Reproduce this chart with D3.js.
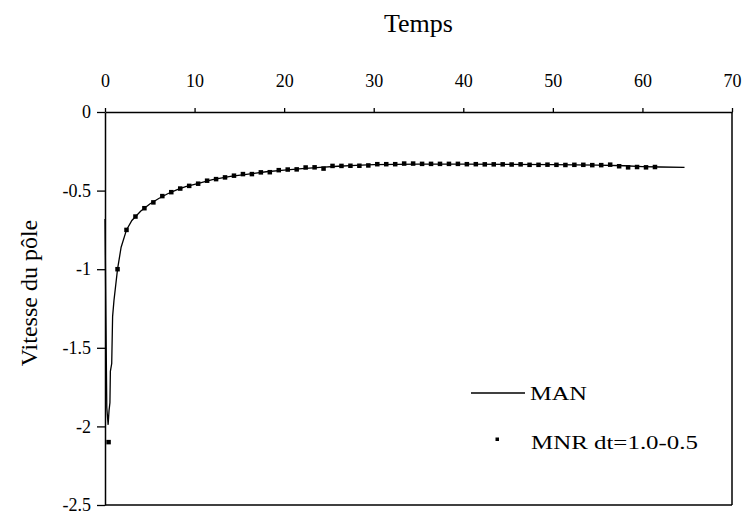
<!DOCTYPE html>
<html><head><meta charset="utf-8">
<script src="https://cdn.jsdelivr.net/npm/d3@7"></script>
<style>
body{margin:0;background:#fff;}
text{font-family:"Liberation Serif","Times New Roman",serif;fill:#000;}
</style></head>
<body>
<svg id="c" width="744" height="515"></svg>
<script>
// ---- data ----
const xTicks = [0, 10, 20, 30, 40, 50, 60, 70];
const yTicks = [0, -0.5, -1, -1.5, -2, -2.5];
const xTitle = "Temps";
const yTitle = "Vitesse du pôle";
const seriesNames = ["MAN", "MNR dt=1.0-0.5"];

// MAN (continuous curve)
const manT = [0, 0.1, 0.2, 0.35, 0.45, 0.55, 0.6, 0.75, 0.85, 1.0, 1.4, 1.8, 2.4, 3, 4, 5, 6, 7, 8, 9, 10, 12, 14, 16, 18, 20, 22, 24, 26, 28, 30, 35, 40, 45, 50, 55, 58, 60, 62, 64.7];
const manV = [-0.68, -1.3, -1.88, -1.99, -1.9, -1.85, -1.65, -1.6, -1.3, -1.2, -1.0, -0.86, -0.75, -0.69, -0.63, -0.585, -0.55, -0.52, -0.495, -0.475, -0.46, -0.43, -0.41, -0.395, -0.38, -0.37, -0.36, -0.352, -0.345, -0.34, -0.335, -0.332, -0.332, -0.333, -0.335, -0.338, -0.342, -0.347, -0.35, -0.352];

// MNR markers
const mnrT = [0.4, 1.4, 2.4, 3.4, 4.4, 5.4, 6.4, 7.4, 8.4, 9.4, 10.4, 11.4, 12.4, 13.4, 14.4, 15.4, 16.4, 17.4, 18.4, 19.4, 20.4, 21.4, 22.4, 23.4, 24.4, 25.4, 26.4, 27.4, 28.4, 29.4, 30.4, 31.4, 32.4, 33.4, 34.4, 35.4, 36.4, 37.4, 38.4, 39.4, 40.4, 41.4, 42.4, 43.4, 44.4, 45.4, 46.4, 47.4, 48.4, 49.4, 50.4, 51.4, 52.4, 53.4, 54.4, 55.4, 56.4, 57.4, 58.4, 59.4, 60.4, 61.4];
const mnrV = [-2.10, -1.00, -0.75, -0.665, -0.612, -0.575, -0.535, -0.51, -0.487, -0.47, -0.456, -0.437, -0.427, -0.416, -0.405, -0.395, -0.395, -0.384, -0.383, -0.37, -0.366, -0.365, -0.353, -0.352, -0.36, -0.343, -0.343, -0.342, -0.342, -0.34, -0.332, -0.332, -0.332, -0.328, -0.328, -0.33, -0.33, -0.33, -0.33, -0.33, -0.332, -0.332, -0.333, -0.333, -0.333, -0.334, -0.333, -0.336, -0.336, -0.335, -0.336, -0.337, -0.336, -0.336, -0.338, -0.338, -0.335, -0.345, -0.352, -0.35, -0.352, -0.35];

// ---- chart ----
const W = 744, H = 515;
const m = {left: 105, top: 112, right: 12, bottom: 10};
const svg = d3.select("#c");
const x = d3.scaleLinear().domain([0, 70]).range([m.left, W - m.right]);
const y = d3.scaleLinear().domain([-2.5, 0]).range([H - m.bottom, m.top]);

// frame (right & bottom)
svg.append("line").attr("x1", x(70)).attr("x2", x(70)).attr("y1", y(0)).attr("y2", y(-2.5))
  .attr("stroke", "#000").attr("stroke-width", 1.5);
svg.append("line").attr("x1", x(0)).attr("x2", x(70)).attr("y1", y(-2.5)).attr("y2", y(-2.5))
  .attr("stroke", "#000").attr("stroke-width", 1.5);

// top x axis
const gx = svg.append("g").attr("transform", `translate(0,${y(0)})`)
  .call(d3.axisTop(x).tickValues(xTicks).tickSizeInner(4).tickSizeOuter(0).tickPadding(21).tickFormat(d => String(d)));
gx.select(".domain").attr("stroke-width", 1.5);
gx.selectAll(".tick line").attr("stroke-width", 1.3);
gx.selectAll("text").style("font-size", "18px").attr("font-family", null);

// left y axis
const gy = svg.append("g").attr("transform", `translate(${x(0)},0)`)
  .call(d3.axisLeft(y).tickValues(yTicks).tickSizeInner(8).tickSizeOuter(0).tickPadding(6).tickFormat(d => String(d)));
gy.select(".domain").attr("stroke-width", 1.5);
gy.selectAll(".tick line").attr("stroke-width", 1.3);
gy.selectAll("text").style("font-size", "18px").attr("font-family", null);

// titles
svg.append("text").attr("x", (x(0) + x(70)) / 2).attr("y", 32).attr("text-anchor", "middle")
  .style("font-size", "26px").text(xTitle);
svg.append("text").attr("transform", "translate(37,293) rotate(-90)").attr("text-anchor", "middle")
  .style("font-size", "24px").text(yTitle);

// MAN line
const manData = manT.map((t, i) => [t, manV[i]]);
svg.append("path").datum(manData)
  .attr("d", d3.line().x(d => x(d[0])).y(d => y(d[1])))
  .attr("fill", "none").attr("stroke", "#000").attr("stroke-width", 1.3);

// MNR markers
const ms = 4.5;
svg.append("g").selectAll("rect").data(mnrT.map((t, i) => [t, mnrV[i]])).join("rect")
  .attr("x", d => x(d[0]) - ms / 2).attr("y", d => y(d[1]) - ms / 2)
  .attr("width", ms).attr("height", ms).attr("fill", "#000");

// legend
const lg = svg.append("g");
lg.append("line").attr("x1", 471).attr("x2", 525).attr("y1", 393).attr("y2", 393)
  .attr("stroke", "#000").attr("stroke-width", 1.3);
lg.append("text").attr("x", 530).attr("y", 400).style("font-size", "18px")
  .attr("textLength", 57).attr("lengthAdjust", "spacingAndGlyphs").text(seriesNames[0]);
lg.append("rect").attr("x", 495.5).attr("y", 437.5).attr("width", 3.5).attr("height", 3.5).attr("fill", "#000");
lg.append("text").attr("x", 531).attr("y", 449).style("font-size", "18px")
  .attr("textLength", 167).attr("lengthAdjust", "spacingAndGlyphs").text(seriesNames[1]);
</script>
</body></html>
